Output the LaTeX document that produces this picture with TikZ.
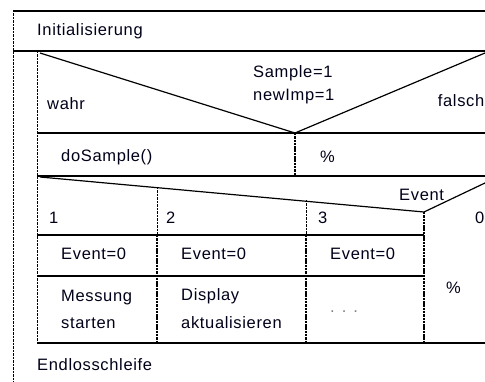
\documentclass[tikz,border=0pt]{standalone}
\usepackage{fontspec}
\setmainfont{Liberation Sans}[LetterSpace=4]
\begin{document}
\begin{tikzpicture}[x=1pt,y=-1pt,
  lbl/.style={anchor=west,inner sep=0pt,font=\fontsize{16.5}{19}\selectfont,text=black!90!blue},
  vline/.style={line width=1.8pt,dash pattern=on 2.5pt off 0.8pt},
  thinv/.style={line width=1pt,dash pattern=on 2.5pt off 1pt},
  hline/.style={line width=1.2pt},
  thick line/.style={line width=2.8pt},
  diag/.style={line width=1.2pt}]
\useasboundingbox (0,0) rectangle (485,382);
\clip (0,0) rectangle (485,382);
% coordinates
\coordinate (oTL) at (13,10);
\coordinate (oBL) at (13,382);
\coordinate (topR) at (485,11);
\coordinate (topL) at (13,11);
\coordinate (thL) at (13,51);
\coordinate (thR) at (485,51);
\coordinate (iTL) at (37,51);
\coordinate (iBL) at (37,343);
\coordinate (ifA) at (40,53);
\coordinate (ifV) at (295,133);
\coordinate (ifB) at (485,53);
\coordinate (r1L) at (37,133);
\coordinate (r1R) at (485,133);
\coordinate (r2L) at (37,176);
\coordinate (r2R) at (485,176);
\coordinate (v1B) at (295,176);
\coordinate (csA) at (40,177);
\coordinate (csV) at (424,212);
\coordinate (csB) at (485,183);
\coordinate (c1T) at (157,187);
\coordinate (c1M) at (157,235);
\coordinate (c1B) at (157,343);
\coordinate (c2T) at (306,200);
\coordinate (c2M) at (306,235);
\coordinate (c2B) at (306,343);
\coordinate (c3B) at (424,343);
\coordinate (e1L) at (37,235);
\coordinate (e1R) at (424,235);
\coordinate (e2L) at (37,276);
\coordinate (e2R) at (424,276);
\coordinate (bR) at (485,343);
% frame
\draw[thinv] (oTL) -- (oBL);
\draw[hline] (topL) -- (topR);
\draw[thick line] (thL) -- (thR);
\draw[thinv] (iTL) -- (iBL);
% if
\draw[diag] (ifA) -- (ifV) -- (ifB);
\draw[hline] (r1L) -- (r1R);
\draw[vline] (ifV) -- (v1B);
\draw[line width=2.2pt] (r2L) -- (r2R);
% case
\draw[diag] (csA) -- (csV) -- (csB);
\draw[thinv] (c1T) -- (c1M);
\draw[vline] (c1M) -- (c1B);
\draw[thinv] (c2T) -- (c2M);
\draw[vline] (c2M) -- (c2B);
\draw[vline] (csV) -- (c3B);
\draw[hline] (e1L) -- (e1R);
\draw[line width=2.2pt] (e2L) -- (e2R);
\draw[hline] (iBL) -- (bR);
% texts
\node[lbl] (init) at (37,31) {Initialisierung};
\node[lbl] (wahr) at (47,104) {wahr};
\node[lbl] (s1) at (253,73) {Sample=1};
\node[lbl] (s2) at (253,97) {newImp=1};
\node[lbl,anchor=east] (falsch) at (484.5,101) {falsch};
\node[lbl] (dos) at (61,157) {doSample()};
\node[lbl] (pc1) at (320,157) {\%};
\node[lbl] (ev) at (399,195) {Event};
\node[lbl] (k1) at (49,218) {1};
\node[lbl] (k2) at (166,218) {2};
\node[lbl] (k3) at (318,218) {3};
\node[lbl,anchor=east] (k0) at (484.5,218) {0};
\node[lbl] (ea) at (61,254) {Event=0};
\node[lbl] (eb) at (181,254) {Event=0};
\node[lbl] (ec) at (330,254) {Event=0};
\node[lbl] (m1) at (61,298) {Messung};
\node[lbl] (m2) at (61,323) {starten};
\node[lbl] (d1) at (181,296) {Display};
\node[lbl] (d2) at (181,323) {aktualisieren};
\node[lbl,text=black!50] (dots) at (330,312) {. . .};
\node[lbl] (pc2) at (446,288) {\%};
\node[lbl] (endl) at (37,365) {Endlosschleife};
\end{tikzpicture}
\end{document}
